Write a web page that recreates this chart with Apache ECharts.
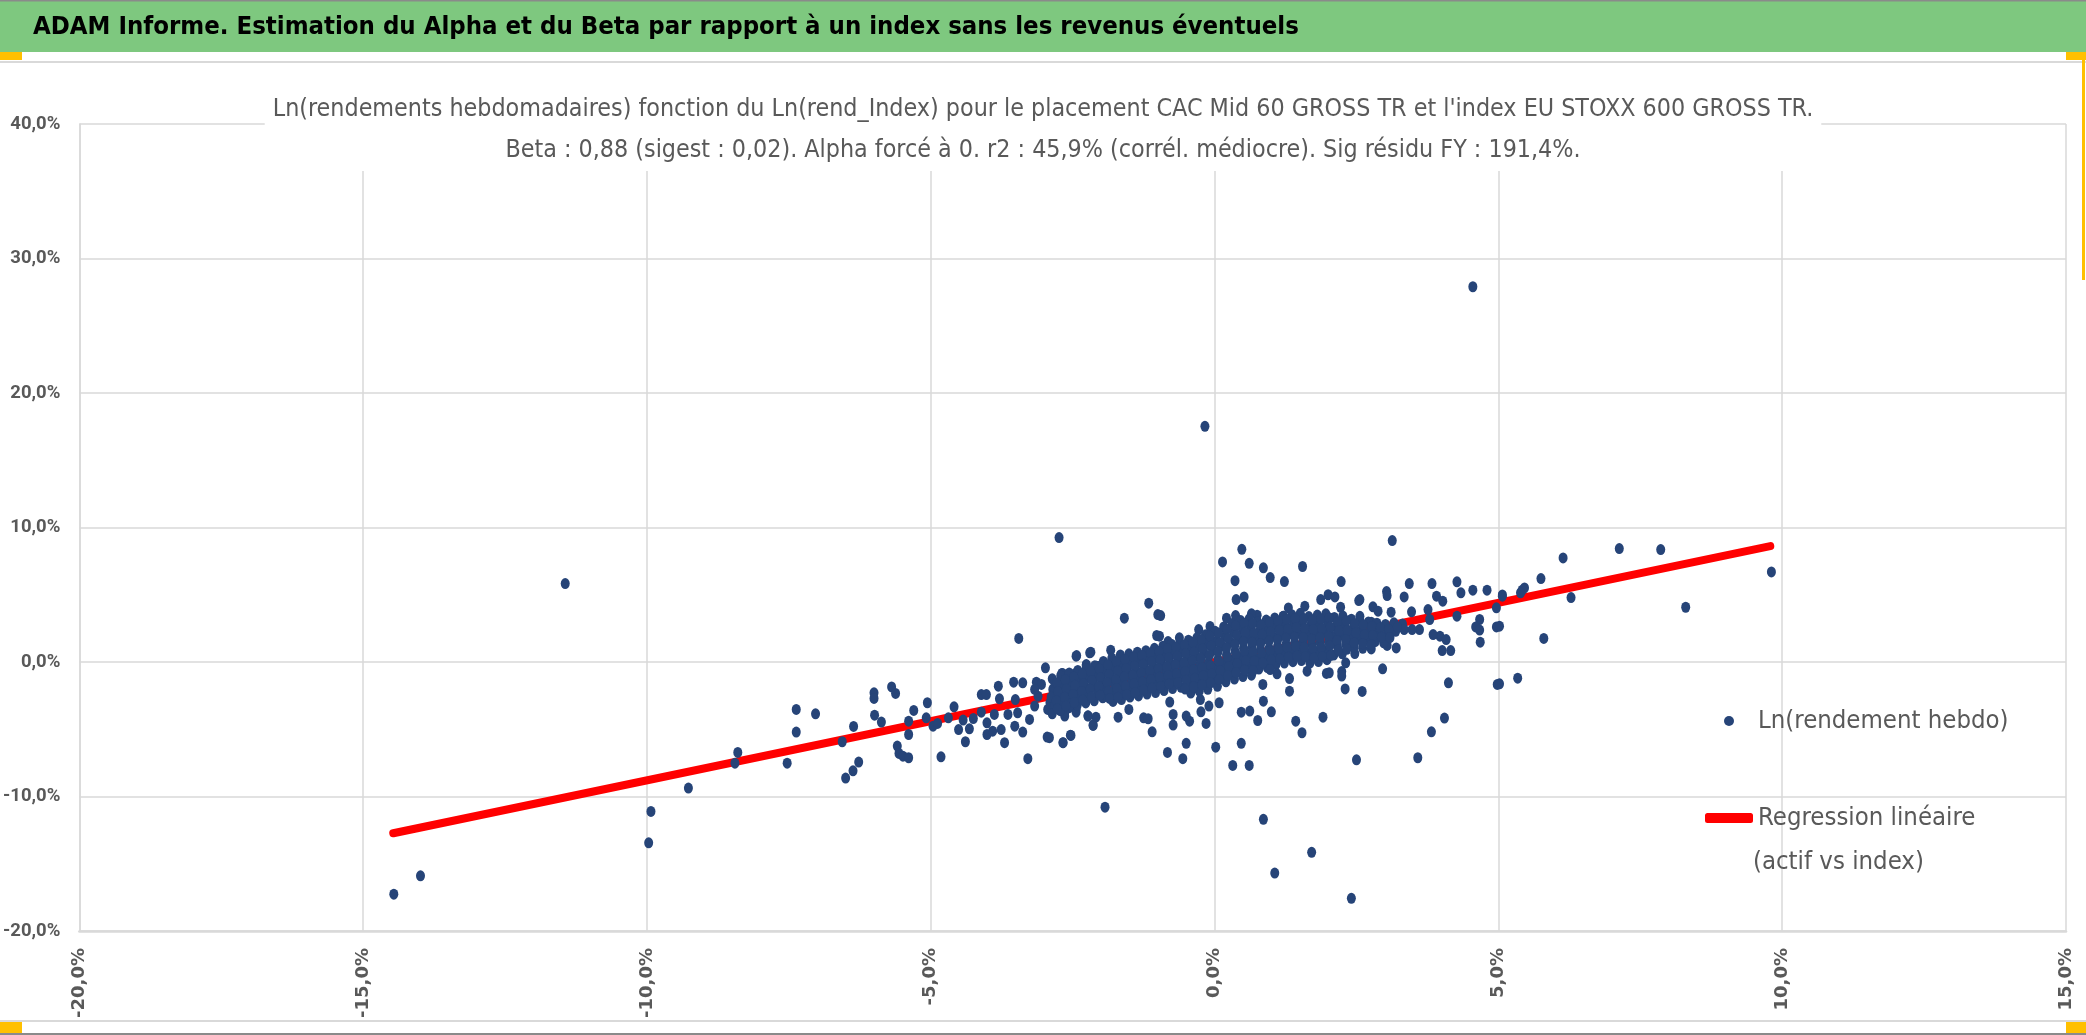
<!DOCTYPE html>
<html><head><meta charset="utf-8">
<script src="https://cdn.jsdelivr.net/npm/echarts@6/dist/echarts.min.js"></script>
<style>html,body{margin:0;padding:0;background:#fff}#c{width:2086px;height:1035px}</style>
</head><body><div id="c"></div>
<script>
const headerTitle = 'ADAM Informe. Estimation du Alpha et du Beta par rapport à un index sans les revenus éventuels';
const chartTitleLines = ["Ln(rendements hebdomadaires) fonction du Ln(rend_Index) pour le placement CAC Mid 60 GROSS TR et l'index EU STOXX 600 GROSS TR.",
  "Beta : 0,88 (sigest : 0,02). Alpha forcé à 0. r2 : 45,9% (corrél. médiocre). Sig résidu FY : 191,4%."];
const seriesNames = ['Ln(rendement hebdo)', 'Regression linéaire'];
const legendSecondLine = '(actif vs index)';
const xTickValues = [-20, -15, -10, -5, 0, 5, 10, 15];
const xTickLabels = ['-20,0%', '-15,0%', '-10,0%', '-5,0%', '0,0%', '5,0%', '10,0%', '15,0%'];
const yTickValues = [-20, -10, 0, 10, 20, 30, 40];
const yTickLabels = ['-20,0%', '-10,0%', '0,0%', '10,0%', '20,0%', '30,0%', '40,0%'];

// regression line (alpha forced to 0, beta 0.88), endpoints
const regressionLine = [[-14.47, -12.73], [9.79, 8.62]];

// weekly log-returns [index %, asset %]
const pointsOutliers = [[4.55,27.9],[-0.17,17.52],[-2.74,9.25],[-11.44,5.83],[-14.46,-17.26],[-13.99,-15.9],[-9.93,-11.11],[-9.97,-13.44],[-9.27,-9.37],[-1.93,-10.79],[0.86,-11.7],[1.71,-14.15],[1.06,-15.69],[2.41,-17.57],[9.81,6.7],[8.3,4.07],[7.86,8.36],[7.13,8.43],[6.14,7.74],[3.13,9.03]];

const pointsLeft = [[-3.45,1.75],[-8.45,-7.52],[-8.40,-6.72],[-7.53,-7.52],[-7.37,-5.21],[-7.37,-3.53],[-7.03,-3.85],[-6.56,-5.93],[-6.36,-4.79],[-6.50,-8.63],[-6.37,-8.09],[-6.27,-7.44],[-6.0,-2.29],[-6.0,-2.71],[-5.99,-3.95],[-5.87,-4.47],[-5.69,-1.85],[-5.62,-2.34],[-5.59,-6.25],[-5.56,-6.8],[-5.49,-7.0],[-5.39,-7.12],[-5.39,-5.39],[-5.39,-4.4],[-5.30,-3.6],[-5.06,-3.03],[-5.08,-4.15],[-4.96,-4.77],[-4.88,-4.57],[-4.82,-7.05],[-4.69,-4.15],[-4.59,-3.33],[-4.51,-5.02],[-4.43,-4.32],[-4.39,-5.93],[-4.32,-4.97],[-4.25,-4.2],[-4.11,-2.42],[-4.02,-2.42],[-4.11,-3.73],[-4.01,-5.39],[-4.01,-4.52],[-3.91,-5.14],[-3.81,-1.8],[-3.79,-2.74],[-3.88,-3.9],[-3.76,-5.02],[-3.70,-6.0],[-3.64,-3.9],[-3.54,-1.5],[-3.51,-2.79],[-3.47,-3.78],[-3.52,-4.77],[-3.38,-5.21],[-3.38,-1.55],[-3.29,-7.19],[-3.26,-4.27],[-3.14,-1.5],[-3.17,-3.28],[-3.11,-2.54],[-3.05,-1.67],[-2.98,-0.43],[-2.95,-5.58],[-2.94,-3.53],[-2.85,-2.04],[-2.73,-2.54],[-2.68,-0.85],[-2.67,-6.0],[-2.64,-3.78],[-2.54,-5.44],[-2.44,0.43],[-2.44,-3.53],[-2.45,-0.85],[-2.26,-0.19],[-2.18,0.73],[-2.14,-4.72],[-2.23,-4.0],[-2.08,-0.31],[-2.38,-1.8],[-2.5,-2.54],[-2.61,-1.55],[-2.79,-3.03],[-2.9,-3.03],[-3.17,-2.04]];

const pointsRight = [[0.48,8.38],[0.14,7.44],[0.61,7.34],[0.86,7.0],[0.98,6.28],[1.55,7.1],[1.23,5.98],[0.36,6.05],[2.23,5.98],[3.43,5.83],[3.83,5.83],[4.27,5.96],[4.34,5.14],[4.55,5.34],[4.80,5.34],[5.07,4.99],[5.75,6.2],[5.80,1.75],[5.34,-1.2],[4.98,-1.67],[4.965,2.61],[4.965,4.03],[5.42,5.34],[5.46,5.51],[4.67,3.16],[4.60,2.61],[4.67,2.37],[4.68,1.47],[4.27,3.41],[4.12,-1.55],[4.05,-4.17],[3.82,-5.19],[3.58,-7.12],[2.50,-7.27],[4.01,0.85],[4.16,0.85],[3.97,1.92],[3.85,2.04],[4.08,1.67],[3.79,3.16],[3.76,3.9],[3.91,4.89],[4.02,4.52],[3.34,4.84],[3.47,3.73],[3.61,2.41],[3.48,2.41],[3.20,1.05],[3.04,1.23],[2.96,-0.51],[2.60,-2.19],[3.03,5.24],[3.04,4.94],[2.79,4.1],[2.88,3.78],[3.11,3.7],[2.54,4.57],[2.56,3.4],[2.24,-0.71],[1.91,-4.1],[1.54,-5.26],[1.43,-4.4],[1.00,-3.7],[0.86,-2.91],[0.85,-1.67],[1.32,-2.17],[1.32,-1.23],[0.76,-4.35],[0.62,-3.65],[0.47,-3.73],[0.47,-6.05],[0.61,-7.69],[0.32,-7.69],[0.02,-6.33],[-0.15,-4.57],[-0.10,-3.28],[-0.24,-3.7],[-0.25,-2.79],[0.08,-3.03],[-0.50,-6.05],[-0.56,-7.19],[-0.83,-6.72],[-0.44,-4.4],[-0.50,-4.02],[-0.73,-4.69],[-0.73,-3.9],[-1.10,-5.19],[-0.79,-2.98],[-1.25,-4.15],[-1.17,-4.22],[-1.51,-3.53],[-1.70,-4.1],[-2.14,-4.69],[-2.09,-4.1],[-2.23,-4.02],[-2.53,-5.46],[-2.67,-6.0],[-2.91,-5.63],[-2.64,-4.02],[-2.73,-3.28],[-2.44,-3.73],[-1.59,3.26],[-1.16,4.37],[-1.0,3.53],[-0.95,3.45],[-1.02,1.97],[-0.97,1.92],[-0.28,2.41],[-0.08,2.64],[-0.62,1.8],[-0.82,1.52],[-1.83,0.88],[-2.20,0.68],[-2.43,0.48],[-2.26,-0.24],[-2.44,-0.93],[-2.69,-0.85],[-2.03,-0.31],[0.38,4.64],[0.52,4.84],[0.21,3.26],[0.37,3.45],[0.75,3.48],[0.65,3.58],[1.30,4.02],[1.21,3.4],[1.59,4.15],[1.87,4.64],[2.0,5.0],[2.12,4.84],[2.22,4.07],[2.56,4.64],[2.76,2.96],[2.24,-1.05],[2.31,-0.06],[2.47,0.63],[1.97,-0.85],[2.02,-0.8],[1.63,-0.68],[6.28,4.79],[5.39,5.14],[5.07,4.89],[5.02,2.66],[5.02,-1.62],[2.30,-2.0]];

const pointsCore = [[-2.86,-1.25],[-2.83,-1.92],[-2.88,-2.61],[-2.81,-3.18],[-2.86,-3.85],
[-2.71,-1.02],[-2.68,-1.74],[-2.73,-2.33],[-2.66,-2.97],[-2.72,-3.62],
[-2.56,-0.81],[-2.53,-1.47],[-2.58,-2.12],[-2.51,-2.83],[-2.57,-3.41],
[-2.41,-0.63],[-2.38,-1.28],[-2.43,-1.97],[-2.36,-2.61],[-2.42,-3.22],
[-2.26,-0.48],[-2.23,-1.12],[-2.28,-1.83],[-2.21,-2.44],[-2.27,-3.04],
[-2.11,-0.27],[-2.08,-0.98],[-2.13,-1.62],[-2.06,-2.23],[-2.12,-2.88],
[-1.96,0.04],[-1.93,-0.69],[-1.98,-1.37],[-1.91,-2.02],[-1.97,-2.66],
[-1.81,0.28],[-1.78,-0.42],[-1.83,-1.08],[-1.76,-1.71],[-1.82,-2.37],[-1.79,-2.93],
[-1.66,0.52],[-1.63,-0.18],[-1.68,-0.87],[-1.61,-1.53],[-1.67,-2.18],[-1.64,-2.79],
[-1.51,0.61],[-1.48,-0.07],[-1.53,-0.72],[-1.46,-1.38],[-1.52,-2.03],[-1.49,-2.61],
[-1.36,0.73],[-1.33,0.02],[-1.38,-0.63],[-1.31,-1.24],[-1.37,-1.88],[-1.34,-2.52],
[-1.21,0.84],[-1.18,0.17],[-1.23,-0.49],[-1.16,-1.12],[-1.22,-1.74],[-1.19,-2.38],
[-1.06,1.02],[-1.03,0.31],[-1.08,-0.33],[-1.01,-0.97],[-1.07,-1.61],[-1.04,-2.27],
[-0.91,1.18],[-0.88,0.47],[-0.93,-0.18],[-0.86,-0.83],[-0.92,-1.48],[-0.89,-2.12],
[-0.76,1.32],[-0.73,0.63],[-0.78,-0.04],[-0.71,-0.68],[-0.77,-1.33],[-0.74,-1.97],
[-0.61,1.43],[-0.58,0.78],[-0.63,0.12],[-0.56,-0.52],[-0.62,-1.17],[-0.59,-1.88],
[-0.46,1.62],[-0.43,0.91],[-0.48,0.27],[-0.41,-0.38],[-0.47,-1.02],[-0.44,-1.68],[-0.42,-2.31],
[-0.31,1.81],[-0.28,1.08],[-0.33,0.42],[-0.26,-0.22],[-0.32,-0.87],[-0.29,-1.52],[-0.27,-2.17],
[-0.16,2.02],[-0.13,1.31],[-0.18,0.63],[-0.11,-0.08],[-0.17,-0.72],[-0.14,-1.37],[-0.12,-2.03],
[0.01,2.28],[0.04,1.57],[-0.02,0.88],[0.06,0.19],[0.0,-0.47],[0.03,-1.12],[0.05,-1.81],
[0.16,2.61],[0.19,1.88],[0.13,1.18],[0.21,0.52],[0.15,-0.18],[0.18,-0.83],[0.2,-1.47],
[0.31,2.87],[0.34,2.19],[0.28,1.47],[0.36,0.81],[0.3,0.12],[0.33,-0.58],[0.35,-1.27],
[0.46,3.08],[0.49,2.41],[0.43,1.72],[0.51,1.03],[0.45,0.33],[0.48,-0.37],[0.5,-1.08],
[0.61,3.21],[0.64,2.52],[0.58,1.81],[0.66,1.12],[0.6,0.41],[0.63,-0.28],[0.65,-0.98],
[0.76,2.98],[0.79,2.31],[0.73,1.62],[0.81,0.92],[0.75,0.21],[0.78,-0.52],
[0.91,3.12],[0.94,2.43],[0.88,1.73],[0.96,1.02],[0.9,0.32],[0.93,-0.41],
[1.06,3.28],[1.09,2.62],[1.03,1.91],[1.11,1.18],[1.05,0.49],[1.08,-0.19],[1.1,-0.88],
[1.21,3.41],[1.24,2.72],[1.18,2.03],[1.26,1.31],[1.2,0.62],[1.23,-0.08],
[1.36,3.52],[1.39,2.81],[1.33,2.12],[1.41,1.43],[1.35,0.71],[1.38,0.02],
[1.51,3.62],[1.54,2.93],[1.48,2.21],[1.56,1.52],[1.5,0.82],[1.53,0.11],
[1.66,3.38],[1.69,2.71],[1.63,2.02],[1.71,1.33],[1.65,0.63],[1.68,-0.08],
[1.81,3.49],[1.84,2.82],[1.78,2.13],[1.86,1.41],[1.8,0.72],[1.83,0.03],
[1.96,3.58],[1.99,2.91],[1.93,2.22],[2.01,1.52],[1.95,0.83],[1.98,0.17],
[2.11,3.31],[2.14,2.62],[2.08,1.92],[2.16,1.22],[2.1,0.52],
[2.26,3.42],[2.29,2.71],[2.23,2.02],[2.31,1.33],[2.25,0.61],
[2.41,3.18],[2.44,2.52],[2.38,1.82],[2.46,1.12],
[2.56,3.08],[2.59,2.41],[2.53,1.71],[2.61,1.02],
[2.71,2.98],[2.74,2.32],[2.68,1.63],[2.76,0.97],
[2.86,2.88],[2.89,2.21],[2.83,1.52],
[3.01,2.79],[3.04,2.12],[2.98,1.43],
[3.16,2.91],[3.19,2.28],
[3.31,2.82],[3.34,2.41]];

const pointsCoreFill = [[-2.78,-1.57],[-2.76,-2.21],[-2.79,-2.88],[-2.77,-3.49],
[-2.63,-1.32],[-2.61,-2.03],[-2.64,-2.62],[-2.62,-3.27],
[-2.48,-1.11],[-2.46,-1.72],[-2.49,-2.41],[-2.47,-3.02],
[-2.33,-0.88],[-2.31,-1.61],[-2.34,-2.19],[-2.32,-2.83],
[-2.18,-0.71],[-2.16,-1.38],[-2.19,-2.02],[-2.17,-2.61],
[-2.03,-0.52],[-2.01,-1.18],[-2.04,-1.83],[-2.02,-2.47],
[-1.88,-0.21],[-1.86,-0.93],[-1.89,-1.52],[-1.87,-2.18],[-1.85,-2.71],
[-1.73,0.02],[-1.71,-0.68],[-1.74,-1.33],[-1.72,-1.98],[-1.7,-2.62],
[-1.58,0.21],[-1.56,-0.49],[-1.59,-1.12],[-1.57,-1.78],[-1.55,-2.41],
[-1.43,0.36],[-1.41,-0.31],[-1.44,-0.98],[-1.42,-1.62],[-1.4,-2.28],
[-1.28,0.49],[-1.26,-0.16],[-1.29,-0.81],[-1.27,-1.46],[-1.25,-2.08],
[-1.13,0.66],[-1.11,0.01],[-1.14,-0.64],[-1.12,-1.31],[-1.1,-1.94],
[-0.98,0.79],[-0.96,0.16],[-0.99,-0.51],[-0.97,-1.14],[-0.95,-1.82],
[-0.83,0.96],[-0.81,0.29],[-0.84,-0.36],[-0.82,-1.01],[-0.8,-1.63],
[-0.68,1.11],[-0.66,0.44],[-0.69,-0.21],[-0.67,-0.86],[-0.65,-1.52],
[-0.53,1.26],[-0.51,0.61],[-0.54,-0.06],[-0.52,-0.71],[-0.5,-1.36],[-0.52,-2.01],
[-0.38,1.46],[-0.36,0.74],[-0.39,0.11],[-0.37,-0.56],[-0.35,-1.21],[-0.37,-1.84],
[-0.23,1.66],[-0.21,0.96],[-0.24,0.29],[-0.22,-0.41],[-0.2,-1.04],[-0.22,-1.71],
[-0.08,1.91],[-0.06,1.19],[-0.09,0.51],[-0.07,-0.26],[-0.05,-0.89],[-0.07,-1.56],
[0.07,2.16],[0.09,1.44],[0.06,0.76],[0.08,0.04],[0.1,-0.66],[0.08,-1.31],
[0.22,2.44],[0.24,1.76],[0.21,1.04],[0.23,0.36],[0.25,-0.34],[0.23,-1.01],
[0.37,2.71],[0.39,1.99],[0.36,1.31],[0.38,0.59],[0.4,-0.11],[0.38,-0.79],
[0.52,2.89],[0.54,2.21],[0.51,1.49],[0.53,0.81],[0.55,0.09],[0.53,-0.61],
[0.67,2.86],[0.69,2.14],[0.66,1.46],[0.68,0.74],[0.7,0.06],[0.68,-0.64],
[0.82,2.74],[0.84,2.06],[0.81,1.34],[0.83,0.66],[0.85,-0.06],
[0.97,2.96],[0.99,2.24],[0.96,1.56],[0.98,0.84],[1.0,0.16],[0.98,-0.56],
[1.12,3.04],[1.14,2.36],[1.11,1.64],[1.13,0.96],[1.15,0.24],
[1.27,3.16],[1.29,2.44],[1.26,1.76],[1.28,1.04],[1.3,0.36],
[1.42,3.24],[1.44,2.56],[1.41,1.84],[1.43,1.16],[1.45,0.44],
[1.57,3.21],[1.59,2.49],[1.56,1.81],[1.58,1.09],[1.6,0.41],
[1.72,3.09],[1.74,2.41],[1.71,1.69],[1.73,1.01],[1.75,0.29],
[1.87,3.21],[1.89,2.49],[1.86,1.81],[1.88,1.09],[1.9,0.41],
[2.02,3.29],[2.04,2.61],[2.01,1.89],[2.03,1.21],[2.05,0.49],
[2.17,2.99],[2.19,2.31],[2.16,1.59],[2.18,0.91],
[2.32,3.06],[2.34,2.34],[2.31,1.66],[2.33,0.94],
[2.47,2.84],[2.49,2.16],[2.46,1.44],
[2.62,2.76],[2.64,2.04],[2.61,1.36],
[2.77,2.64],[2.79,1.96],[2.76,1.29],
[2.92,2.56],[2.94,1.84],
[3.07,2.44],[3.09,1.81],
[3.22,2.61]];

const scatterData = [].concat(pointsOutliers, pointsLeft, pointsRight, pointsCore, pointsCoreFill);

function tickLabel(values, labels) {
  return function (v) {
    const i = values.indexOf(Math.round(v * 1000) / 1000);
    return i >= 0 ? labels[i] : '';
  };
}

const chart = echarts.init(document.getElementById('c'), null, { renderer: 'canvas' });
const textGray = '#595959';
const gridGray = '#d9d9d9';
const condensed = 'DejaVu Sans Condensed';

chart.setOption({
  backgroundColor: '#ffffff',
  animation: false,
  title: [
    {
      text: headerTitle, left: 33, top: 14, padding: 0,
      textStyle: { fontFamily: condensed, fontWeight: 'bold', fontSize: 25.5, color: '#000000' },
      z: 10
    },
    {
      text: chartTitleLines.join('\n'), left: 'center', top: 89,
      backgroundColor: '#ffffff', padding: [0, 8, 0, 8],
      textStyle: { fontFamily: condensed, fontWeight: 'normal', fontSize: 24.8, color: textGray, lineHeight: 41 },
      z: 10
    }
  ],
  grid: { left: 79, right: 20, top: 124, bottom: 104, containLabel: false },
  xAxis: {
    type: 'value', min: -20, max: 15, interval: 5,
    axisLine: { show: true, onZero: false, lineStyle: { color: gridGray, width: 2.5 } },
    axisTick: { show: false },
    splitLine: { show: true, lineStyle: { color: gridGray, width: 1.5 } },
    axisLabel: {
      rotate: 90, margin: 17, color: textGray,
      fontFamily: 'DejaVu Sans', fontWeight: 'bold', fontSize: 18,
      formatter: tickLabel(xTickValues, xTickLabels)
    }
  },
  yAxis: {
    type: 'value', min: -20, max: 40, interval: 10,
    axisLine: { show: true, onZero: false, lineStyle: { color: gridGray, width: 1.5 } },
    axisTick: { show: false },
    splitLine: { show: true, lineStyle: { color: gridGray, width: 1.5 } },
    axisLabel: {
      margin: 19, color: textGray,
      fontFamily: 'Roboto', fontWeight: 'bold', fontSize: 18.5,
      formatter: tickLabel(yTickValues, yTickLabels)
    }
  },
  legend: {
    orient: 'vertical', left: 1700, top: 701,
    itemWidth: 48, itemHeight: 10, itemGap: 67,
    textStyle: { fontFamily: condensed, fontSize: 25.5, color: textGray, lineHeight: 30 },
    data: [{ name: seriesNames[0], icon: 'circle' }, { name: seriesNames[1], icon: 'roundRect' }]
  },
  series: [
    {
      name: seriesNames[1], type: 'line', data: regressionLine,
      color: '#ff0000', showSymbol: false, symbol: 'none',
      lineStyle: { color: '#ff0000', width: 8, cap: 'round' }, z: 2
    },
    {
      name: seriesNames[0], type: 'scatter', data: scatterData,
      symbol: 'circle', symbolSize: [9, 11],
      itemStyle: { color: '#264478', opacity: 1 }, z: 3
    }
  ],
  graphic: [
    { type: 'rect', shape: { x: 0, y: 1, width: 2086, height: 51 }, style: { fill: '#7ec87f' }, z: 0 },
    { type: 'rect', shape: { x: 0, y: 0, width: 2086, height: 1.5 }, style: { fill: '#8a8a8a' }, z: 1 },
    { type: 'rect', shape: { x: 0, y: 61, width: 2086, height: 2 }, style: { fill: gridGray }, z: 1 },
    { type: 'rect', shape: { x: 0, y: 1020, width: 2086, height: 2 }, style: { fill: gridGray }, z: 1 },
    { type: 'rect', shape: { x: 0, y: 1033, width: 2086, height: 2 }, style: { fill: '#8a8a8a' }, z: 1 },
    { type: 'rect', shape: { x: 0, y: 52, width: 22, height: 8 }, style: { fill: '#ffc000' }, z: 2 },
    { type: 'rect', shape: { x: 2066, y: 52, width: 20, height: 8 }, style: { fill: '#ffc000' }, z: 2 },
    { type: 'rect', shape: { x: 2082, y: 60, width: 3, height: 220 }, style: { fill: '#ffc000' }, z: 2 },
    { type: 'rect', shape: { x: 0, y: 1022, width: 22, height: 11 }, style: { fill: '#ffc000' }, z: 2 },
    { type: 'rect', shape: { x: 2066, y: 1022, width: 20, height: 11 }, style: { fill: '#ffc000' }, z: 2 },
    {
      type: 'text', x: 1753, y: 862, z: 5,
      style: { text: legendSecondLine, fontFamily: condensed, fontSize: 25.5, fill: textGray, verticalAlign: 'middle', textVerticalAlign: 'middle' }
    }
  ]
});
</script>
</body></html>
